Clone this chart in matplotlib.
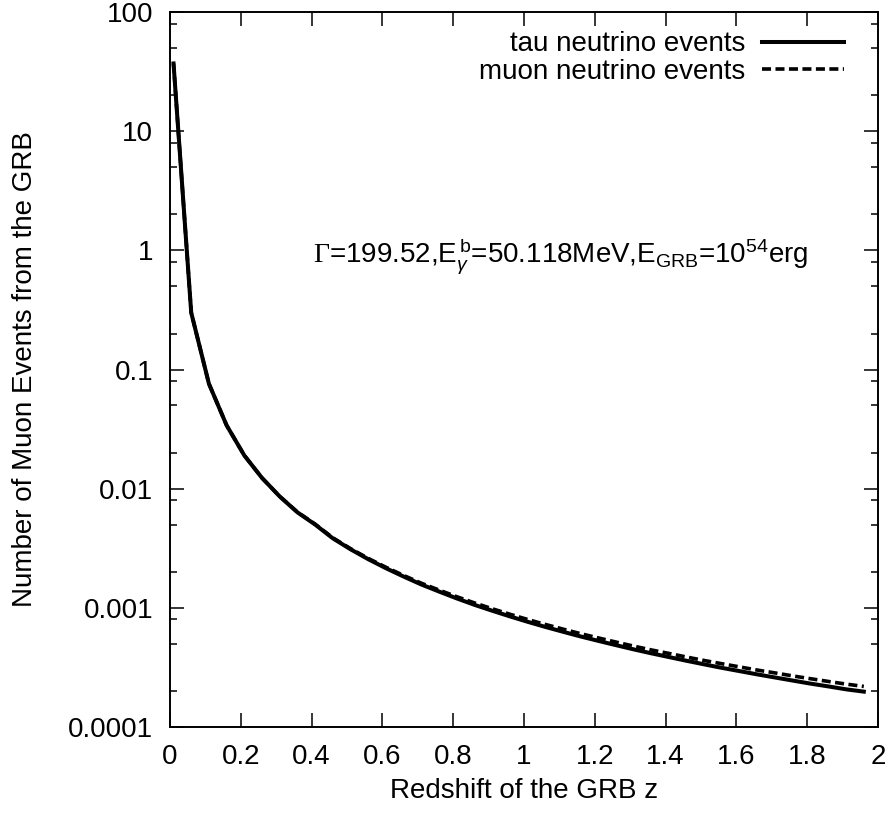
import numpy as np
import matplotlib
matplotlib.use('Agg')
import matplotlib.pyplot as plt
from matplotlib.ticker import LogLocator, FixedLocator, NullFormatter

# redshift grid of the computed curves
z = [0.01, 0.06, 0.11, 0.16, 0.21, 0.26, 0.31, 0.36, 0.41, 0.46,
     0.51, 0.56, 0.61, 0.66, 0.71, 0.76, 0.81, 0.86, 0.91, 0.96,
     1.01, 1.06, 1.11, 1.16, 1.21, 1.26, 1.31, 1.36, 1.41, 1.46,
     1.51, 1.56, 1.61, 1.66, 1.71, 1.76, 1.81, 1.86, 1.91, 1.96]

tau_events = [37.0, 0.30, 0.076, 0.034, 0.019, 0.0123, 0.0086, 0.00633, 0.0050, 0.00383,
              0.0031, 0.00256, 0.00215, 0.00183, 0.00157, 0.00137, 0.00120, 0.00106, 0.000946, 0.000848,
              0.000764, 0.000692, 0.00063, 0.000575, 0.000528, 0.000486, 0.000448, 0.000415, 0.000386, 0.000359,
              0.000335, 0.000313, 0.000294, 0.000276, 0.00026, 0.000245, 0.000231, 0.000219, 0.000207, 0.000198]

muon_events = [37.0, 0.30, 0.076, 0.034, 0.019, 0.0123, 0.0086, 0.00636, 0.00504, 0.00387,
               0.00314, 0.0026, 0.00219, 0.00187, 0.00161, 0.00141, 0.00124, 0.0011, 0.000983, 0.000884,
               0.000799, 0.000726, 0.000663, 0.000607, 0.000559, 0.000516, 0.000477, 0.000443, 0.000414, 0.000386,
               0.000361, 0.000339, 0.000319, 0.0003, 0.000284, 0.000268, 0.000254, 0.000241, 0.000229, 0.000219]

xticks = [0, 0.2, 0.4, 0.6, 0.8, 1, 1.2, 1.4, 1.6, 1.8, 2]
xtick_labels = ['0', '0.2', '0.4', '0.6', '0.8', '1', '1.2', '1.4', '1.6', '1.8', '2']
yticks = [1e-4, 1e-3, 1e-2, 1e-1, 1, 10, 100]
ytick_labels = ['0.0001', '0.001', '0.01', '0.1', '1', '10', '100']

plt.rcParams['font.family'] = ['Liberation Sans', 'DejaVu Sans']
plt.rcParams['mathtext.fontset'] = 'custom'
plt.rcParams['mathtext.rm'] = 'Liberation Sans'
plt.rcParams['mathtext.it'] = 'Liberation Sans:italic'
plt.rcParams['mathtext.sf'] = 'Liberation Serif'
plt.rcParams['lines.scale_dashes'] = False

fs = 20

fig = plt.figure(figsize=(8.89, 8.13), dpi=100)
ax = fig.add_axes([0.1912, 0.1058, 0.9876 - 0.1912, 0.9852 - 0.1058])

ax.plot(z, tau_events, color='black', lw=2.9, label='tau neutrino events')
ax.plot(z, muon_events, color='black', lw=2.6, dashes=(6.5, 3.2),
        label='muon neutrino events')

ax.set_yscale('log')
ax.set_xlim(0, 2)
ax.set_ylim(1e-4, 100)

ax.xaxis.set_major_locator(FixedLocator(xticks))
ax.set_xticklabels(xtick_labels)
ax.yaxis.set_major_locator(FixedLocator(yticks))
ax.set_yticklabels(ytick_labels)
ax.yaxis.set_minor_locator(LogLocator(base=10, subs=(2, 5, 8)))
ax.yaxis.set_minor_formatter(NullFormatter())

ax.tick_params(which='both', direction='in', top=True, right=True, labelsize=fs)
ax.tick_params(axis='x', which='major', length=10, width=1.1, pad=12)
ax.tick_params(axis='y', which='major', length=10, width=1.1, pad=12)
ax.tick_params(which='minor', length=5, width=1.1)
for sp in ax.spines.values():
    sp.set_linewidth(1.4)

ax.set_xlabel('Redshift of the GRB z', fontsize=fs, labelpad=6)
ax.set_ylabel('Number of Muon Events from the GRB', fontsize=fs, labelpad=22)

ax.text(0.404, 0.9, r'$\mathsf{\Gamma}$=199.52,E$_{\gamma}^{\,\rm b}$=50.118MeV,E$_{\rm GRB}$=10$^{54}$erg',
        fontsize=fs, ha='left', va='center', transform=ax.transData)

ax.legend(loc='upper right', frameon=False, markerfirst=False, fontsize=fs,
          handlelength=2.95, handletextpad=0.6, labelspacing=0.05,
          borderaxespad=0.3, bbox_to_anchor=(0.979, 1.0))

fig.savefig('out.png', dpi=100)
